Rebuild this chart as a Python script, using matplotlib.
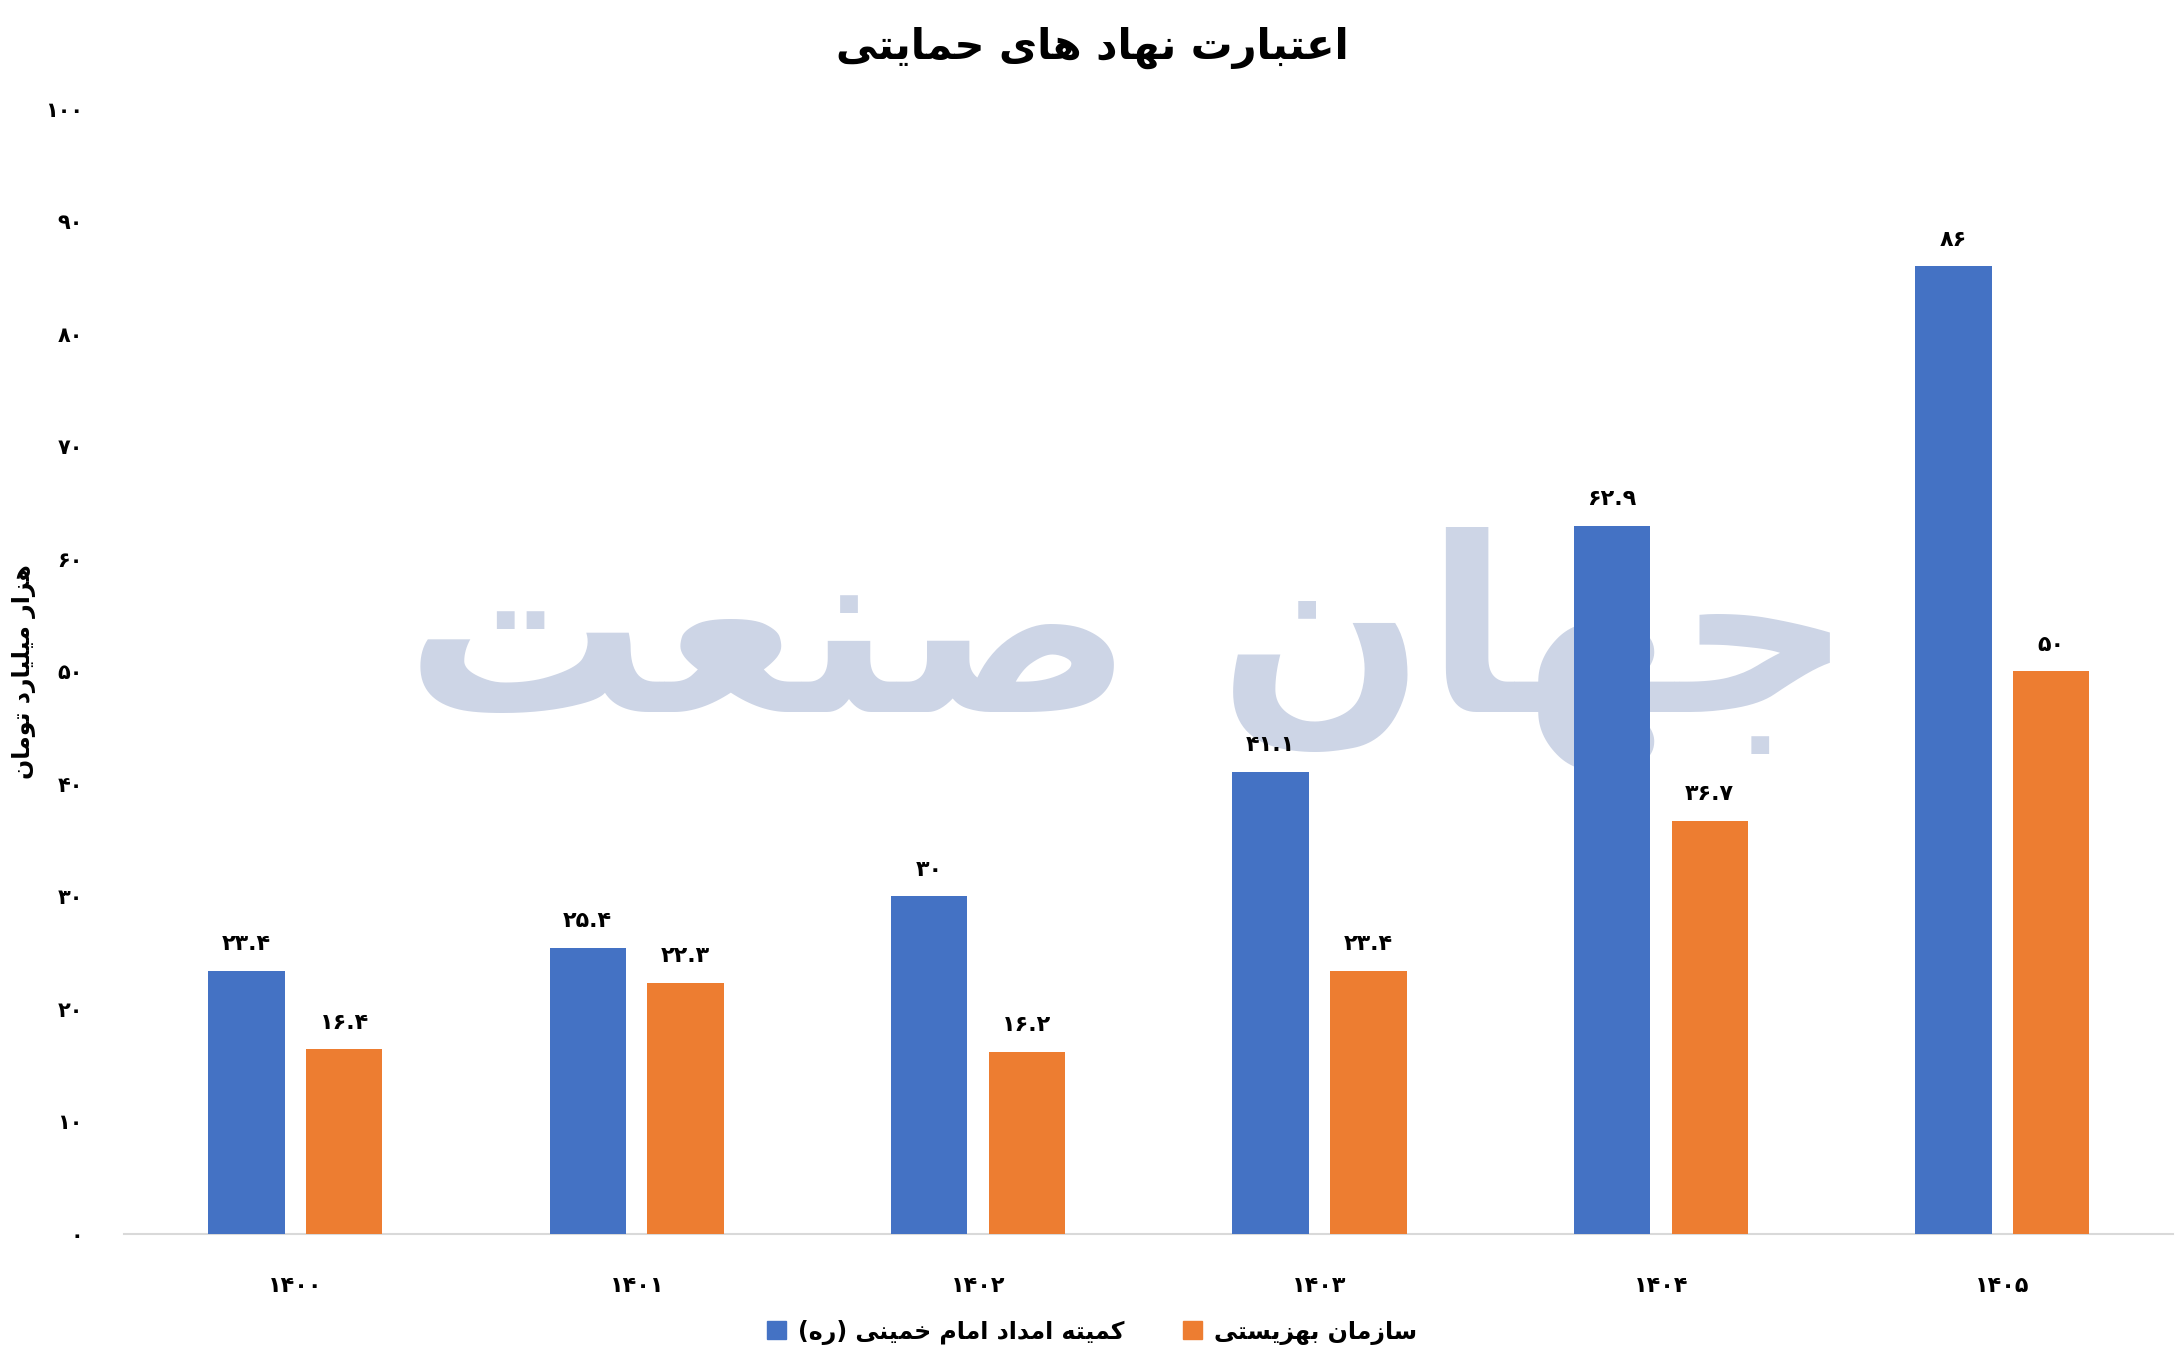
import matplotlib
matplotlib.use("Agg")
import matplotlib.pyplot as plt
from matplotlib.patches import Patch

years = ["۱۴۰۰", "۱۴۰۱", "۱۴۰۲", "۱۴۰۳", "۱۴۰۴", "۱۴۰۵"]
komite = [23.4, 25.4, 30, 41.1, 62.9, 86]
behzisti = [16.4, 22.3, 16.2, 23.4, 36.7, 50]
komite_labels = ["۲۳.۴", "۲۵.۴", "۳۰", "۴۱.۱", "۶۲.۹", "۸۶"]
behzisti_labels = ["۱۶.۴", "۲۲.۳", "۱۶.۲", "۲۳.۴", "۳۶.۷", "۵۰"]
yticks = [0, 10, 20, 30, 40, 50, 60, 70, 80, 90, 100]
ytick_labels = ["۰", "۱۰", "۲۰", "۳۰", "۴۰", "۵۰", "۶۰", "۷۰", "۸۰", "۹۰", "۱۰۰"]
title = "اعتبارت نهاد های حمایتی"
series_names = ["کمیته امداد امام خمینی (ره)", "سازمان بهزیستی"]
ylabel = "هزار میلیارد تومان"
watermark = "جهان صنعت"

FORMS = {
    'ا': (0xFE8D, 0xFE8E, None, None), 'د': (0xFEA9, 0xFEAA, None, None),
    'ر': (0xFEAD, 0xFEAE, None, None), 'ز': (0xFEAF, 0xFEB0, None, None),
    'و': (0xFEED, 0xFEEE, None, None),
    'ب': (0xFE8F, 0xFE90, 0xFE91, 0xFE92), 'ت': (0xFE95, 0xFE96, 0xFE97, 0xFE98),
    'ج': (0xFE9D, 0xFE9E, 0xFE9F, 0xFEA0), 'ح': (0xFEA1, 0xFEA2, 0xFEA3, 0xFEA4),
    'خ': (0xFEA5, 0xFEA6, 0xFEA7, 0xFEA8), 'س': (0xFEB1, 0xFEB2, 0xFEB3, 0xFEB4),
    'ص': (0xFEB9, 0xFEBA, 0xFEBB, 0xFEBC), 'ع': (0xFEC9, 0xFECA, 0xFECB, 0xFECC),
    'ل': (0xFEDD, 0xFEDE, 0xFEDF, 0xFEE0), 'م': (0xFEE1, 0xFEE2, 0xFEE3, 0xFEE4),
    'ن': (0xFEE5, 0xFEE6, 0xFEE7, 0xFEE8), 'ه': (0xFEE9, 0xFEEA, 0xFEEB, 0xFEEC),
    'ی': (0xFBFC, 0xFBFD, 0xFBFE, 0xFBFF), 'ک': (0xFB8E, 0xFB8F, 0xFB90, 0xFB91),
}
def joins_next(c):
    return c in FORMS and FORMS[c][2] is not None
def shape(s):
    out = []
    for i, c in enumerate(s):
        if c not in FORMS:
            out.append(c); continue
        prev = s[i-1] if i > 0 else ''
        nxt = s[i+1] if i + 1 < len(s) else ''
        jp = joins_next(prev)
        jn = joins_next(c) and nxt in FORMS
        iso, fin, ini, med = FORMS[c]
        if jp and jn: code = med
        elif jp: code = fin
        elif jn: code = ini
        else: code = iso
        out.append(chr(code))
    vis = ''.join(reversed(out))
    return vis.translate(str.maketrans('()', ')('))

plt.rcParams['font.family'] = ['DejaVu Sans']
BLUE = '#4472C4'
ORANGE = '#ED7D31'

fig = plt.figure(figsize=(21.84, 13.62), dpi=100)
ax = fig.add_axes([0.057, 0.094, 0.938, 0.826])

x = list(range(len(years)))
w = 0.224
off = 0.143
bb = ax.bar([i - off for i in x], komite, width=w, color=BLUE, zorder=3)
bo = ax.bar([i + off for i in x], behzisti, width=w, color=ORANGE, zorder=3)
for rect, lab in zip(bb, komite_labels):
    ax.text(rect.get_x() + rect.get_width()/2, rect.get_height() + 1.5, lab,
            ha='center', va='bottom', fontsize=16, fontweight='bold', zorder=4)
for rect, lab in zip(bo, behzisti_labels):
    ax.text(rect.get_x() + rect.get_width()/2, rect.get_height() + 1.5, lab,
            ha='center', va='bottom', fontsize=16, fontweight='bold', zorder=4)

ax.text(0.49, 0.52, shape(watermark), transform=ax.transAxes, ha='center', va='center',
        fontsize=175, fontweight='bold', color='#CDD5E6', zorder=1)

ax.set_xlim(-0.5, 5.5)
ax.set_ylim(0, 100)
ax.set_yticks(yticks)
ax.set_yticklabels(ytick_labels, fontsize=15, fontweight='bold')
ax.set_xticks(x)
ax.set_xticklabels(years, fontsize=16, fontweight='bold')
ax.tick_params(axis='x', length=0, pad=30)
ax.tick_params(axis='y', length=0, pad=30)
for s in ['top', 'right', 'left']:
    ax.spines[s].set_visible(False)
ax.spines['bottom'].set_color('#D9D9D9')
ax.spines['bottom'].set_linewidth(1.5)
ax.set_ylabel(shape(ylabel), fontsize=17, fontweight='bold', labelpad=6)

fig.text(0.5, 0.965, shape(title), ha='center', va='center', fontsize=30, fontweight='bold')

handles = [Patch(color=BLUE), Patch(color=ORANGE)]
labels = [shape(series_names[0]), shape(series_names[1])]
fig.legend(handles, labels, loc='center', bbox_to_anchor=(0.5, 0.022), ncol=2, frameon=False,
           prop={'size': 17, 'weight': 'bold'}, handlelength=0.8, handleheight=0.8,
           columnspacing=2.5, handletextpad=0.5)

fig.savefig('out.png', dpi=100)
